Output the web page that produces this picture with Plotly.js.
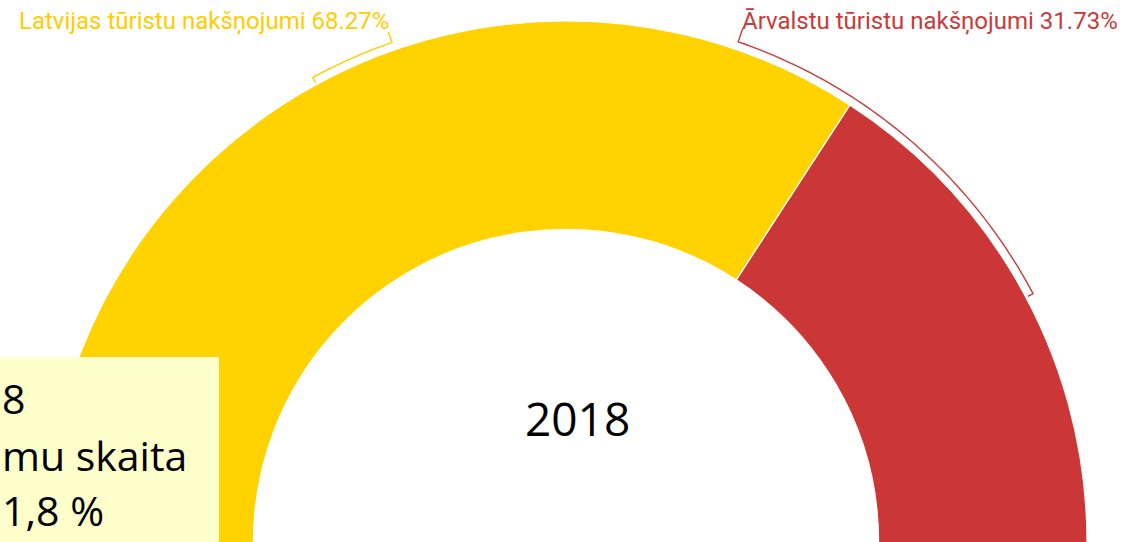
<!DOCTYPE html>
<html>
<head>
<meta charset="utf-8">
<script src="https://cdn.plot.ly/plotly-3.0.1.min.js"></script>
<style>
  html, body { margin: 0; padding: 0; background: #fff; overflow: hidden; }
  #wrap { width: 1125px; height: 542px; overflow: hidden; position: relative; }
  #chart { width: 1125px; height: 1084px; }
</style>
</head>
<body>
<div id="wrap"><div id="chart"></div></div>
<script>
// ---- data ----
const categories = ['Ārvalstu tūristu nakšņojumi', 'Latvijas tūristu nakšņojumi'];
const shares = [31.73, 68.27];
const sliceColors = ['#CB3636', '#FFD200'];
const labelColors = ['#C93A3A', '#FFCC00'];
const centerLabel = '2018';
const boxLines = ['8', 'mu skaita', '1,8 %'];

// ---- geometry (pixels) ----
const W = 1125, H = 1084;
const cx = 566, cy = 542, R = 521;

function pt(deg, r) {
  const a = deg * Math.PI / 180;
  return [cx + r * Math.sin(a), cy - r * Math.cos(a)];
}
function bracketPath(a0, a1, rArc, r0, r1) {
  const pts = [pt(a0, r0)];
  const n = 60;
  for (let i = 0; i <= n; i++) pts.push(pt(a0 + (a1 - a0) * i / n, rArc));
  pts.push(pt(a1, r1));
  return 'M' + pts.map(p => p[0].toFixed(2) + ',' + p[1].toFixed(2)).join(' L');
}

const pie = {
  type: 'pie',
  labels: categories,
  values: shares,
  sort: false,
  direction: 'clockwise',
  rotation: 33,
  hole: 0.6,
  textinfo: 'none',
  hoverinfo: 'label+percent',
  showlegend: false,
  marker: { colors: sliceColors, line: { color: '#ffffff', width: 1.2 } },
  domain: { x: [(cx - R) / W, (cx + R) / W], y: [1 - (cy + R) / H, 1 - (cy - R) / H] }
};

const shapes = [
  { type: 'path', xref: 'x', yref: 'y', layer: 'above',
    path: bracketPath(-19.2, -28.6, 529, 540, 523),
    line: { color: labelColors[1], width: 1.4 } },
  { type: 'path', xref: 'x', yref: 'y', layer: 'above',
    path: bracketPath(19, 62, 529, 543, 523),
    line: { color: labelColors[0], width: 1.4 } },
  { type: 'rect', xref: 'x', yref: 'y', layer: 'above',
    x0: -5, x1: 219, y0: 357, y1: H + 5,
    fillcolor: '#FFFFCC', line: { width: 0 } }
];

const annotations = [
  { x: 17, y: 21, xref: 'x', yref: 'y', xanchor: 'left', yanchor: 'middle', showarrow: false,
    text: categories[1] + ' ' + shares[1].toFixed(2) + '%',
    font: { family: 'Roboto', size: 24, color: labelColors[1] } },
  { x: 740, y: 21, xref: 'x', yref: 'y', xanchor: 'left', yanchor: 'middle', showarrow: false,
    text: categories[0] + ' ' + shares[0].toFixed(2) + '%',
    font: { family: 'Roboto', size: 24, color: labelColors[0] } },
  { x: 577, y: 418, xref: 'x', yref: 'y', xanchor: 'center', yanchor: 'middle', showarrow: false,
    text: centerLabel, font: { family: 'Open Sans', size: 46, color: '#000' } },
  { x: 0, y: 398, xref: 'x', yref: 'y', xanchor: 'left', yanchor: 'middle', showarrow: false,
    text: boxLines[0], font: { family: 'Open Sans', size: 41, color: '#000' } },
  { x: 0, y: 455, xref: 'x', yref: 'y', xanchor: 'left', yanchor: 'middle', showarrow: false,
    text: boxLines[1], font: { family: 'Open Sans', size: 41, color: '#000' } },
  { x: 0, y: 510, xref: 'x', yref: 'y', xanchor: 'left', yanchor: 'middle', showarrow: false,
    text: boxLines[2], font: { family: 'Open Sans', size: 41, color: '#000' } }
];

const layout = {
  width: W, height: H,
  margin: { l: 0, r: 0, t: 0, b: 0, pad: 0 },
  paper_bgcolor: '#ffffff', plot_bgcolor: 'rgba(0,0,0,0)',
  xaxis: { range: [0, W], visible: false, fixedrange: true },
  yaxis: { range: [H, 0], visible: false, fixedrange: true },
  showlegend: false,
  shapes: shapes,
  annotations: annotations
};

Plotly.newPlot('chart', [pie], layout, { displayModeBar: false, staticPlot: true });
</script>
</body>
</html>
